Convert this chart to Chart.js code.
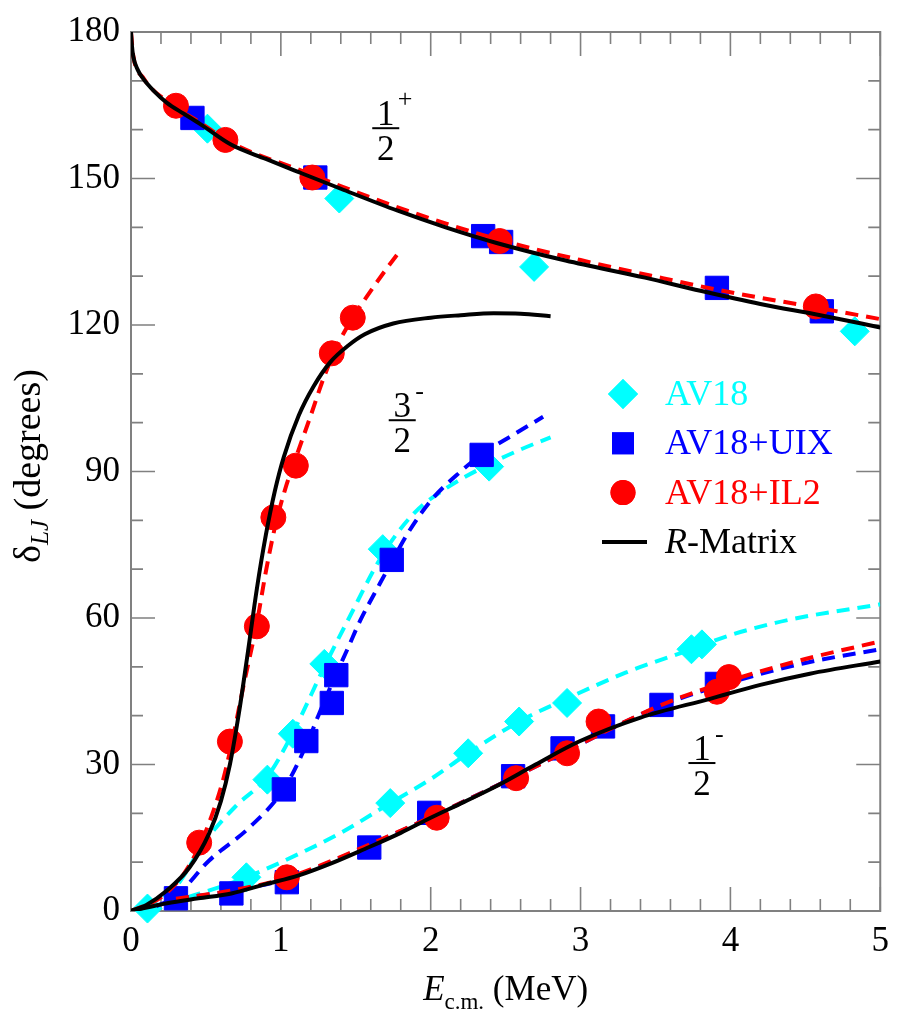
<!DOCTYPE html>
<html>
<head>
<meta charset="utf-8">
<script src="https://cdn.jsdelivr.net/npm/chart.js@4.4.0/dist/chart.umd.min.js"></script>
<style>
  html, body { margin: 0; padding: 0; background: #fff; }
  #wrap { width: 899px; height: 1013px; }
</style>
</head>
<body>
<div id="wrap"><canvas id="chart" width="899" height="1013"></canvas></div>
<script>
// values: E in MeV, delta in degrees

// --- calculated points (all three partial waves for each interaction) ---
const av18E     = [0.51, 1.39, 2.69, 4.83,   0.91, 1.08, 1.29, 1.68, 2.39,   0.11, 0.77, 1.73, 2.25, 2.59, 2.91, 3.74, 3.81];
const av18Delta = [160.2, 145.9, 131.9, 118.7,   26.9, 36.3, 50.6, 74.1, 91.0,   0.5, 6.9, 22.1, 32.3, 38.8, 42.6, 53.6, 54.6];

const uixE     = [0.41, 1.23, 2.35, 2.47, 3.91, 4.61,   0.30, 1.02, 1.17, 1.34, 1.37, 1.74, 2.34,   0.67, 1.04, 1.59, 1.99, 2.55, 2.88, 3.15, 3.54, 3.91];
const uixDelta = [162.4, 150.2, 138.2, 137.0, 127.6, 122.8,   2.6, 24.9, 34.8, 42.6, 48.3, 71.9, 93.4,   3.6, 5.9, 13.0, 20.1, 27.6, 33.3, 37.8, 42.2, 46.5];

const il2E     = [0.30, 0.63, 1.21, 2.46, 4.57,   0.455, 0.66, 0.84, 0.95, 1.10, 1.34, 1.48,   1.04, 2.04, 2.57, 2.91, 3.12, 3.91, 3.99];
const il2Delta = [164.9, 157.9, 150.2, 137.2, 123.8,   14.0, 34.7, 58.3, 80.6, 91.2, 114.2, 121.5,   6.9, 19.1, 27.2, 32.3, 38.8, 44.9, 47.9];

// --- R-matrix curves ---
const rmPlusE      = [0, 0.005, 0.015, 0.046, 0.08, 0.15, 0.24, 0.35, 0.46, 0.67, 0.9, 1.12, 1.4, 1.78, 2.1, 2.44, 2.9, 3.43, 3.8, 4.2, 4.6, 5.0];
const rmPlusDelta  = [180, 177.6, 175, 172.2, 170.5, 168, 165.5, 163.3, 161.2, 156.9, 154, 151.3, 147.9, 143.4, 140, 136.8, 133.2, 129.7, 127, 124.3, 122, 119.5];
const rmThreeE     = [0, 0.1, 0.24, 0.39, 0.52, 0.6, 0.66, 0.72, 0.78, 0.84, 0.9, 0.96, 1.02, 1.12, 1.22, 1.33, 1.45, 1.56, 1.75, 2.0, 2.2, 2.42, 2.6, 2.8];
const rmThreeDelta = [0, 1.2, 4.2, 8.9, 15.8, 22.5, 30, 40.5, 53, 66, 77, 86, 93, 101.5, 107.5, 112.4, 115.8, 118.1, 120.3, 121.5, 122, 122.4, 122.3, 121.8];
const rmMinusE     = [0, 0.24, 0.45, 0.67, 0.9, 1.12, 1.34, 1.56, 1.8, 2.0, 2.22, 2.44, 2.7, 2.99, 3.4, 3.87, 4.2, 4.53, 5.0];
const rmMinusDelta = [0, 1.6, 2.6, 3.6, 5.5, 7.3, 9.8, 12.7, 16, 19.1, 22.3, 25.6, 30, 34.7, 39.6, 43.5, 46.3, 48.6, 51.1];

// --- dashed fits through the calculations ---
const il2PlusE      = [0, 0.015, 0.08, 0.24, 0.46, 0.67, 1.12, 1.78, 2.44, 3.0, 3.5, 4.0, 4.57, 5.0];
const il2PlusDelta  = [180, 175.2, 170.7, 165.8, 161.5, 157.3, 151.8, 144.1, 137.6, 133.3, 129.9, 126.7, 123.6, 121.2];
const il2ThreeE     = [0, 0.2, 0.35, 0.455, 0.55, 0.62, 0.68, 0.75, 0.84, 0.9, 0.96, 1.03, 1.1, 1.2, 1.29, 1.38, 1.48, 1.6, 1.7, 1.8];
const il2ThreeDelta = [0, 2.8, 7.5, 13.2, 20.5, 27.5, 35.5, 46, 59, 69.5, 78.5, 86.5, 92.8, 101.5, 109.5, 116, 121.5, 127, 131.3, 135.4];
const il2MinusE     = [0.3, 0.67, 1.04, 1.56, 2.04, 2.57, 3.0, 3.54, 4.0, 4.5, 5.0];
const il2MinusDelta = [2.5, 4.2, 6.8, 13.2, 19.8, 27.6, 34.2, 42.2, 47.2, 51.6, 55.2];

const uixThreeE     = [0.17, 0.3, 0.52, 0.79, 1.02, 1.17, 1.25, 1.34, 1.45, 1.53, 1.66, 1.74, 1.85, 2.0, 2.2, 2.34, 2.55, 2.75];
const uixThreeDelta = [1, 3, 10.3, 17.1, 25, 34, 40, 46.5, 54, 59.5, 67, 71.5, 77.5, 84, 90, 93.5, 97.5, 101.2];
const uixMinusE     = [0.3, 0.67, 1.04, 1.56, 2.04, 2.57, 3.0, 3.54, 4.0, 4.5, 5.0];
const uixMinusDelta = [2.5, 4.1, 6.6, 13.1, 19.8, 27.6, 34.2, 42.1, 46.8, 50.8, 53.6];

const av18ThreeE     = [0.1, 0.3, 0.5, 0.7, 0.91, 1.08, 1.29, 1.45, 1.68, 1.89, 2.1, 2.39, 2.6, 2.8];
const av18ThreeDelta = [0.5, 5, 14.5, 21.5, 27.5, 36.5, 50, 59.7, 73, 81.5, 86.5, 91.5, 94.5, 97];
const av18MinusE     = [0.11, 0.46, 0.77, 1.12, 1.4, 1.73, 2.0, 2.25, 2.59, 2.91, 3.3, 3.74, 4.0, 4.3, 4.5, 5.0];
const av18MinusDelta = [0.5, 3.6, 6.9, 11.7, 16, 22.1, 27, 32.3, 38.8, 43.5, 48.8, 53.6, 56.5, 59, 60.3, 62.8];

const xTicks = [0, 1, 2, 3, 4, 5];
const yTicks = [0, 30, 60, 90, 120, 150, 180];

const CYAN = '#00ffff', BLUE = '#0000ff', RED = '#ff0000', BLACK = '#000000';
const SERIF = '"Liberation Serif"';

function pts(xs, ys) {
  return xs.map((x, i) => ({ x: x, y: ys[i] }));
}

function curve(xs, ys, color, dashed) {
  return {
    data: pts(xs, ys),
    showLine: true,
    borderColor: color,
    borderWidth: 4,
    borderDash: dashed ? [13, 8] : [],
    pointRadius: 0,
    cubicInterpolationMode: 'monotone',
    fill: false
  };
}

function markers(xs, ys, color, style, r) {
  return {
    data: pts(xs, ys),
    showLine: false,
    pointStyle: style,
    pointRadius: r,
    pointBackgroundColor: color,
    pointBorderColor: color,
    pointBorderWidth: 1,
    clip: false
  };
}

// first dataset ends up on top
const datasets = [
  curve(rmPlusE, rmPlusDelta, BLACK, false),
  curve(rmThreeE, rmThreeDelta, BLACK, false),
  curve(rmMinusE, rmMinusDelta, BLACK, false),
  markers(il2E, il2Delta, RED, 'circle', 12.5),
  curve(il2PlusE, il2PlusDelta, RED, true),
  curve(il2ThreeE, il2ThreeDelta, RED, true),
  curve(il2MinusE, il2MinusDelta, RED, true),
  markers(uixE, uixDelta, BLUE, 'rect', 16.5),
  curve(uixThreeE, uixThreeDelta, BLUE, true),
  curve(uixMinusE, uixMinusDelta, BLUE, true),
  markers(av18E, av18Delta, CYAN, 'rectRot', 14.5),
  curve(av18ThreeE, av18ThreeDelta, CYAN, true),
  curve(av18MinusE, av18MinusDelta, CYAN, true)
];

// frame with inward ticks on all four sides
const frameTicks = {
  id: 'frameTicks',
  beforeDatasetsDraw(chart) {
    const { ctx, chartArea: a, scales: { x, y } } = chart;
    ctx.save();
    ctx.strokeStyle = '#808080';
    ctx.lineWidth = 2;
    ctx.strokeRect(a.left, a.top, a.right - a.left, a.bottom - a.top);
    ctx.lineWidth = 1.6;
    ctx.beginPath();
    for (let i = 0; i <= 25; i++) {
      const px = x.getPixelForValue(i * 0.2);
      const len = i % 5 === 0 ? 24 : 12;
      ctx.moveTo(px, a.bottom); ctx.lineTo(px, a.bottom - len);
      ctx.moveTo(px, a.top); ctx.lineTo(px, a.top + len);
    }
    for (let i = 0; i <= 18; i++) {
      const py = y.getPixelForValue(i * 10);
      const len = i % 3 === 0 ? 24 : 12;
      ctx.moveTo(a.left, py); ctx.lineTo(a.left + len, py);
      ctx.moveTo(a.right, py); ctx.lineTo(a.right - len, py);
    }
    ctx.stroke();
    ctx.restore();
  }
};

function fraction(ctx, cx, barY, num, den, sign) {
  ctx.font = '35px ' + SERIF;
  ctx.textAlign = 'center';
  ctx.textBaseline = 'alphabetic';
  ctx.fillStyle = BLACK;
  ctx.fillText(num, cx, barY - 3);
  ctx.fillText(den, cx, barY + 32);
  ctx.fillRect(cx - 13.5, barY - 1, 27, 2);
  ctx.font = '26px ' + SERIF;
  ctx.textAlign = 'left';
  ctx.fillText(sign, cx + (sign === '+' ? 12 : 13), barY - 21);
}

const annotations = {
  id: 'annotations',
  afterDraw(chart) {
    const { ctx, chartArea: a, scales: { x, y } } = chart;
    ctx.save();

    // partial-wave labels
    fraction(ctx, x.getPixelForValue(1.70), y.getPixelForValue(160.3), '1', '2', '+');
    fraction(ctx, x.getPixelForValue(1.81), y.getPixelForValue(100.5), '3', '2', '-');
    fraction(ctx, x.getPixelForValue(3.81), y.getPixelForValue(30.3), '1', '2', '-');

    // legend
    const rows = [
      { text: 'AV18', color: CYAN, style: 'rectRot', r: 15 },
      { text: 'AV18+UIX', color: BLUE, style: 'rect', r: 15.5 },
      { text: 'AV18+IL2', color: RED, style: 'circle', r: 12.5 },
      { text: 'R-Matrix', color: BLACK, style: 'line' }
    ];
    const lx = 623, tx = 665;
    rows.forEach((row, i) => {
      const base = 405 + i * 49.3;
      const my = base - 11;
      if (row.style === 'line') {
        ctx.strokeStyle = BLACK;
        ctx.lineWidth = 4;
        ctx.beginPath();
        ctx.moveTo(602, my); ctx.lineTo(647, my);
        ctx.stroke();
      } else {
        ctx.fillStyle = row.color;
        Chart.helpers.drawPoint(ctx, { pointStyle: row.style, radius: row.r, borderWidth: 0 }, lx, my);
        ctx.fill();
      }
      ctx.fillStyle = row.color;
      ctx.textAlign = 'left';
      ctx.textBaseline = 'alphabetic';
      if (row.style === 'line') {
        ctx.font = 'italic 36px ' + SERIF;
        ctx.fillText('R', tx, base);
        const w = ctx.measureText('R').width;
        ctx.font = '36px ' + SERIF;
        ctx.fillText('-Matrix', tx + w, base);
      } else {
        ctx.font = '36px ' + SERIF;
        ctx.fillText(row.text, tx, base);
      }
    });

    // x-axis title: E_c.m. (MeV)
    ctx.fillStyle = BLACK;
    ctx.textAlign = 'left';
    ctx.textBaseline = 'alphabetic';
    const parts = [
      { t: 'E', f: 'italic 35px ' + SERIF, dy: 0 },
      { t: 'c.m.', f: '23px ' + SERIF, dy: 9 },
      { t: ' (MeV)', f: '35px ' + SERIF, dy: 0 }
    ];
    let total = 0;
    parts.forEach(p => { ctx.font = p.f; p.w = ctx.measureText(p.t).width; total += p.w; });
    let cx = (a.left + a.right) / 2 - total / 2;
    parts.forEach(p => { ctx.font = p.f; ctx.fillText(p.t, cx, 1000 + p.dy); cx += p.w; });

    // y-axis title: delta_LJ (degrees)
    ctx.translate(40, 466);
    ctx.rotate(-Math.PI / 2);
    const yparts = [
      { t: 'δ', f: '38px ' + SERIF, dy: 0 },
      { t: 'LJ', f: 'italic 25px ' + SERIF, dy: 8 },
      { t: ' (degrees)', f: '38px ' + SERIF, dy: 0 }
    ];
    total = 0;
    yparts.forEach(p => { ctx.font = p.f; p.w = ctx.measureText(p.t).width; total += p.w; });
    cx = -total / 2;
    yparts.forEach(p => { ctx.font = p.f; ctx.fillText(p.t, cx, p.dy); cx += p.w; });

    ctx.restore();
  }
};

new Chart(document.getElementById('chart'), {
  type: 'scatter',
  data: { datasets: datasets },
  options: {
    responsive: false,
    animation: false,
    events: [],
    layout: { padding: { top: 26, right: 11, left: 0, bottom: 0 } },
    plugins: { legend: { display: false }, tooltip: { enabled: false } },
    scales: {
      x: {
        type: 'linear',
        min: 0, max: 5,
        afterFit: s => { s.height = 102; },
        afterBuildTicks: s => { s.ticks = xTicks.map(v => ({ value: v })); },
        grid: { display: false, drawTicks: false },
        border: { display: false },
        ticks: { color: BLACK, padding: 10, font: { family: SERIF, size: 35 } }
      },
      y: {
        type: 'linear',
        min: 0, max: 180,
        afterFit: s => { s.width = 131; },
        afterBuildTicks: s => { s.ticks = yTicks.map(v => ({ value: v })); },
        grid: { display: false, drawTicks: false },
        border: { display: false },
        ticks: { color: BLACK, padding: 11, font: { family: SERIF, size: 35 } }
      }
    }
  },
  plugins: [frameTicks, annotations]
});
</script>
</body>
</html>
